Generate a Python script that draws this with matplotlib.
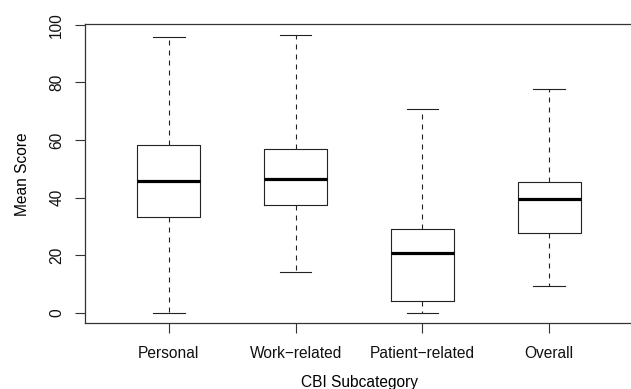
import matplotlib
matplotlib.use("Agg")
from matplotlib import pyplot as plt

# values
categories = ["Personal", "Work\u2212related", "Patient\u2212related", "Overall"]
whisker_low = [0.0, 14.3, 0.0, 9.4]
q1 = [33.3, 37.5, 4.2, 27.6]
median = [45.8, 46.4, 20.8, 39.4]
q3 = [58.3, 57.0, 29.1, 45.3]
whisker_high = [95.8, 96.5, 70.9, 77.6]
y_ticks = [0, 20, 40, 60, 80, 100]

plt.rcParams["font.family"] = ["Liberation Sans", "DejaVu Sans"]

stats = []
for lab, lo, a, m, b, hi in zip(categories, whisker_low, q1, median, q3, whisker_high):
    stats.append({"label": lab, "whislo": lo, "q1": a, "med": m, "q3": b,
                  "whishi": hi, "fliers": []})

fig = plt.figure(figsize=(6.31, 3.89), dpi=100)
ax = fig.add_axes([0.1347, 0.1689, 0.8685, 0.7686])

line_col = "#222222"
ax.bxp(stats, positions=range(1, 5), widths=0.5, showfliers=False,
       boxprops=dict(color=line_col, lw=0.8),
       medianprops=dict(color="black", lw=2.3, solid_capstyle="butt"),
       whiskerprops=dict(color=line_col, lw=0.8, linestyle=(0, (4.5, 4.5))),
       capprops=dict(color=line_col, lw=0.8),
       capwidths=0.25)

ax.set_xlim(0.34, 4.66)
ax.set_ylim(-3.57, 100.14)
ax.set_yticks(y_ticks)
ax.set_yticklabels([str(v) for v in y_ticks], rotation=90, va="center")
ax.set_xticks(range(1, 5))
ax.set_xticklabels(categories)

for s in ax.spines.values():
    s.set_color("#333333")
    s.set_linewidth(0.9)
ax.tick_params(axis="both", length=7, width=0.8, color="#333333",
               labelsize=11.2, labelcolor="#111111")
ax.tick_params(axis="x", pad=9)
ax.tick_params(axis="y", pad=8)

ax.set_xlabel("CBI Subcategory", fontsize=11.2, labelpad=10.5)
ax.set_ylabel("Mean Score", fontsize=11.2, labelpad=14)

fig.savefig("out.png", dpi=100)
